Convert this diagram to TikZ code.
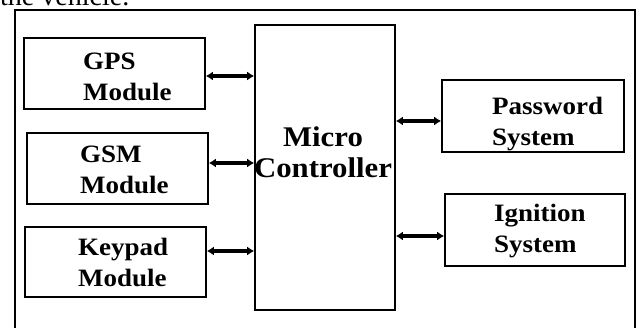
\documentclass[tikz,border=0pt]{standalone}
\usepackage{fontspec}
\setmainfont{Liberation Serif}
\newfontfamily\boxfont{Liberation Serif}[FakeStretch=1.08]
\usetikzlibrary{arrows.meta}
\tikzset{
  blockbox/.style={draw, line width=1.6pt, minimum width=181pt, minimum height=71pt, inner sep=0pt},
  blocktext/.style={anchor=base west, align=left, inner sep=0pt,
    font=\boxfont\bfseries\fontsize{25}{31}\selectfont},
  biarrow/.style={line width=3.2pt, arrows={Latex[length=7pt,width=9pt]-Latex[length=7pt,width=9pt]}},
}
\begin{document}
\begin{tikzpicture}[x=1pt,y=-1pt]
\useasboundingbox (0,0) rectangle (637,328);
\clip (0,0) rectangle (637,328);
\fill[white] (0,0) rectangle (637,328);
% cut-off caption line above the figure
\node[anchor=base west, inner sep=0pt, font=\fontsize{28}{30}\selectfont] (caption) at (0,5.5) {the vehicle.};
% outer frame
\draw[line width=1.6pt] (15,10) rectangle (635,345);
% blocks
\node[blockbox] (gps) at (114.5,73.5) {};
\node[blockbox] (gsm) at (117.5,168.5) {};
\node[blockbox, minimum height=70pt] (key) at (115.5,262) {};
\node[blockbox, minimum width=140pt, minimum height=285pt] (mc) at (325,167.5) {};
\node[blockbox, minimum width=182pt, minimum height=72pt] (pwd) at (533,116) {};
\node[blockbox, minimum width=180pt, minimum height=72pt] (ign) at (535,230) {};
% texts (anchor = baseline of last line)
\node[blocktext] (gpst) at (83,101) {GPS\\Module};
\node[blocktext] (gsmt) at (80,194) {GSM\\Module};
\node[blocktext] (keyt) at (78,287) {Keypad\\Module};
\node[blocktext] (pwdt) at (492,145.5) {Password\\System};
\node[blocktext] (ignt) at (494,253) {Ignition\\System};
\node[anchor=base, align=center, inner sep=0pt,
  font=\boxfont\bfseries\fontsize{28.5}{31}\selectfont] (mct) at (323,178) {Micro\\Controller};
% connectors
\draw[biarrow] (gps.east |- 0,76) -- (mc.west |- 0,76);
\draw[biarrow] (gsm.east |- 0,163) -- (mc.west |- 0,163);
\draw[biarrow] (key.east |- 0,251) -- (mc.west |- 0,251);
\draw[biarrow] (mc.east |- 0,121) -- (pwd.west |- 0,121);
\draw[biarrow] (mc.east |- 0,236) -- (ign.west |- 0,236);
\end{tikzpicture}
\end{document}
